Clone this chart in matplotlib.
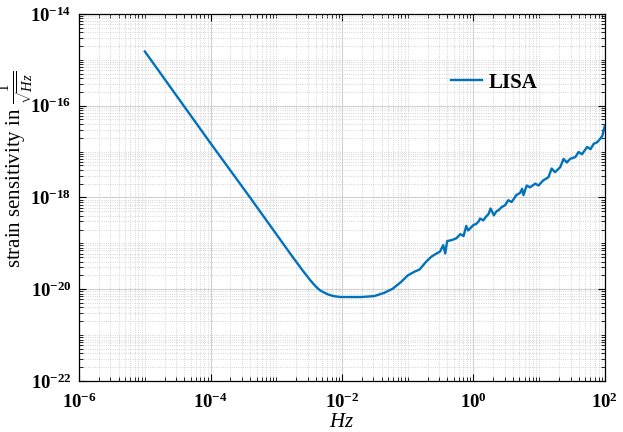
import numpy as np
import matplotlib
matplotlib.use("Agg")
import matplotlib.pyplot as plt
from matplotlib.ticker import FixedLocator, FixedFormatter, LogLocator, NullFormatter

# values (log10 of frequency and strain)
log_freq = [-5.0, -4.0, -3.4, -2.78, -2.6, -2.48, -2.4, -2.33, -2.22, -2.13,
            -2.02, -1.85, -1.71, -1.51, -1.36, -1.23, -1.10, -1.00, -0.90, -0.82,
            -0.72, -0.64, -0.56, -0.51, -0.46, -0.43, -0.40, -0.33, -0.26, -0.20,
            -0.15, -0.11, -0.08, 0.0, 0.04, 0.08, 0.10, 0.15, 0.19, 0.23,
            0.26, 0.31, 0.35, 0.38, 0.43, 0.48, 0.53, 0.58, 0.62, 0.65,
            0.71, 0.74, 0.76, 0.81, 0.86, 0.94, 0.99, 1.06, 1.14, 1.19,
            1.24, 1.32, 1.37, 1.42, 1.47, 1.55, 1.60, 1.65, 1.73, 1.78,
            1.83, 1.88, 1.93, 1.96, 2.0]
log_strain = [-14.82, -16.82, -18.0, -19.24, -19.59, -19.81, -19.94, -20.03, -20.11, -20.15,
              -20.17, -20.17, -20.17, -20.15, -20.08, -19.99, -19.84, -19.70, -19.62, -19.57,
              -19.40, -19.29, -19.22, -19.18, -19.04, -19.22, -18.95, -18.93, -18.89, -18.80,
              -18.84, -18.62, -18.72, -18.60, -18.58, -18.52, -18.46, -18.50, -18.42, -18.36,
              -18.24, -18.39, -18.30, -18.28, -18.21, -18.17, -18.06, -18.10, -18.02, -17.95,
              -17.90, -17.81, -17.95, -17.74, -17.78, -17.70, -17.74, -17.63, -17.56, -17.37,
              -17.45, -17.34, -17.16, -17.24, -17.16, -17.12, -17.01, -17.06, -16.90, -16.95,
              -16.83, -16.80, -16.72, -16.66, -16.43]

x_ticks = [1e-6, 1e-4, 1e-2, 1e0, 1e2]
x_labels = [r"$\mathbf{10^{-6}}$", r"$\mathbf{10^{-4}}$", r"$\mathbf{10^{-2}}$",
            r"$\mathbf{10^{0}}$", r"$\mathbf{10^{2}}$"]
y_ticks = [1e-22, 1e-20, 1e-18, 1e-16, 1e-14]
y_labels = [r"$\mathbf{10^{-22}}$", r"$\mathbf{10^{-20}}$", r"$\mathbf{10^{-18}}$",
            r"$\mathbf{10^{-16}}$", r"$\mathbf{10^{-14}}$"]

plt.rcParams["font.family"] = ["Liberation Serif", "DejaVu Serif"]
plt.rcParams["mathtext.fontset"] = "custom"
plt.rcParams["mathtext.rm"] = "Liberation Serif"
plt.rcParams["mathtext.it"] = "Liberation Serif:italic"
plt.rcParams["mathtext.bf"] = "Liberation Serif:bold"

freq = 10.0 ** np.array(log_freq)
strain = 10.0 ** np.array(log_strain)

fig = plt.figure(figsize=(6.23, 4.32), dpi=100)
ax = fig.add_axes([0.127, 0.118, 0.844, 0.85])

ax.loglog(freq, strain, color="#0072BD", lw=1.7, label="LISA")

ax.set_xlim(1e-6, 1e2)
ax.set_ylim(1e-22, 1e-14)

ax.xaxis.set_major_locator(FixedLocator(x_ticks))
ax.xaxis.set_major_formatter(FixedFormatter(x_labels))
ax.yaxis.set_major_locator(FixedLocator(y_ticks))
ax.yaxis.set_major_formatter(FixedFormatter(y_labels))
ax.xaxis.set_minor_locator(LogLocator(base=10, subs=np.arange(1, 10), numticks=100))
ax.yaxis.set_minor_locator(LogLocator(base=10, subs=np.arange(1, 10), numticks=100))
ax.xaxis.set_minor_formatter(NullFormatter())
ax.yaxis.set_minor_formatter(NullFormatter())

ax.tick_params(which="both", direction="in", top=True, right=True, labelsize=13.5)
ax.tick_params(which="major", length=5, width=0.8)
ax.tick_params(which="minor", length=3, width=0.6)
ax.tick_params(axis="x", which="major", pad=8)
ax.tick_params(axis="y", which="major", pad=5.5)

ax.grid(True, which="major", color="#d0d0d0", lw=0.8, ls="-")
ax.grid(True, which="minor", color="#c8c8c8", lw=0.6, ls=":")
ax.set_axisbelow(True)
for s in ax.spines.values():
    s.set_linewidth(0.9)

ax.set_xlabel(r"$Hz$", fontsize=15, labelpad=1)
ax.set_ylabel(r"strain sensitivity in $\frac{1}{\sqrt{Hz}}$", fontsize=15)
ax.yaxis.set_label_coords(-0.084, 0.575)

leg = ax.legend(loc="upper left", bbox_to_anchor=(0.707, 0.84), frameon=False,
                prop={"weight": "bold", "size": 15}, handlelength=1.5,
                handletextpad=0.3, borderpad=0, borderaxespad=0)

fig.savefig("out.png", dpi=100)
